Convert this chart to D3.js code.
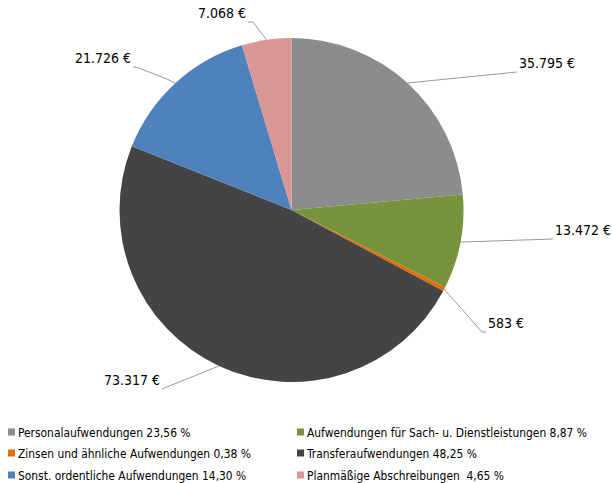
<!DOCTYPE html>
<html>
<head>
<meta charset="utf-8">
<script src="https://cdn.jsdelivr.net/npm/d3@7"></script>
<style>
  body { margin: 0; background: #fff; }
  text { font-family: "DejaVu Sans Condensed", "Liberation Sans Narrow", sans-serif; fill: #000; white-space: pre; }
</style>
</head>
<body>
<div id="chart"></div>
<script>
// Data
const categories = [
  "Personalaufwendungen",
  "Aufwendungen für Sach- u. Dienstleistungen",
  "Zinsen und ähnliche Aufwendungen",
  "Transferaufwendungen",
  "Sonst. ordentliche Aufwendungen",
  "Planmäßige Abschreibungen "
];
const values = [35795, 13472, 583, 73317, 21726, 7068];
const valueLabels = ["35.795 €", "13.472 €", "583 €", "73.317 €", "21.726 €", "7.068 €"];
const percentLabels = ["23,56 %", "8,87 %", "0,38 %", "48,25 %", "14,30 %", "4,65 %"];
const colors = ["#8c8c8c", "#77933c", "#e46c0a", "#444444", "#4f81bd", "#d99694"];

// Layout
const width = 612, height = 483;
const cx = 291.5, cy = 210, radius = 172;

// leader line points after the arc edge, and where the label text sits
const labelLayout = [
  { pts: [[517, 72]], tx: 519, ty: 72, anchor: "start" },
  { pts: [[553, 239]], tx: 555, ty: 239, anchor: "start" },
  { pts: [[482, 332], [486, 332]], tx: 488, ty: 332, anchor: "start" },
  { pts: [[162, 389]], tx: 160, ty: 389, anchor: "end" },
  { pts: [[167, 79], [136, 67], [133, 67]], tx: 131, ty: 67, anchor: "end" },
  { pts: [[253, 22], [248, 22]], tx: 246, ty: 22, anchor: "end" }
];

const svg = d3.select("#chart").append("svg")
  .attr("width", width)
  .attr("height", height);

const pie = d3.pie().sort(null).value(d => d)(values);
const arc = d3.arc().innerRadius(0).outerRadius(radius);

const g = svg.append("g").attr("transform", `translate(${cx},${cy})`);

g.selectAll("path.slice")
  .data(pie)
  .join("path")
  .attr("class", "slice")
  .attr("d", arc)
  .attr("fill", (d, i) => colors[i]);

// Leader lines + value labels
pie.forEach((d, i) => {
  const mid = (d.startAngle + d.endAngle) / 2;
  const edge = [cx + radius * Math.sin(mid), cy - radius * Math.cos(mid)];
  const L = labelLayout[i];
  svg.append("path")
    .attr("d", d3.line()([edge, ...L.pts]))
    .attr("fill", "none")
    .attr("stroke", "#7f7f7f")
    .attr("stroke-width", 0.8);
  svg.append("text")
    .attr("x", L.tx)
    .attr("y", L.ty - 4)
    .attr("text-anchor", L.anchor)
    .attr("font-size", 14)
    .text(valueLabels[i]);
});

// Legend
const legendCols = [8, 297];
const legendRows = [432, 453, 475];
const legend = svg.append("g");
categories.forEach((c, i) => {
  const x = legendCols[i % 2];
  const y = legendRows[Math.floor(i / 2)];
  legend.append("rect")
    .attr("x", x).attr("y", y - 3.5)
    .attr("width", 7).attr("height", 7)
    .attr("fill", colors[i]);
  legend.append("text")
    .attr("x", x + 10).attr("y", y + 4.5)
    .attr("font-size", 11.9)
    .text(c + " " + percentLabels[i]);
});
</script>
</body>
</html>
